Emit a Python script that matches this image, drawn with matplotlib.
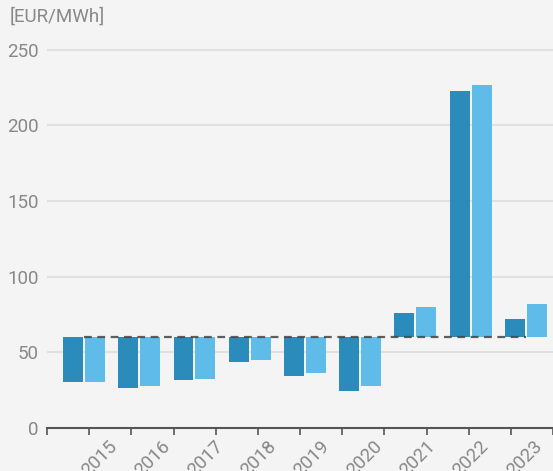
import matplotlib
matplotlib.use("Agg")
import matplotlib.pyplot as plt

# data
years = ["2015", "2016", "2017", "2018", "2019", "2020", "2021", "2022", "2023"]
series_dark = [30.4, 26.4, 31.7, 43.6, 34.3, 24.6, 76.0, 222.6, 72.0]
series_light = [30.4, 27.7, 32.4, 44.9, 36.5, 27.7, 79.9, 226.5, 81.9]
reference_level = 60
y_ticks = [0, 50, 100, 150, 200, 250]
unit_label = "[EUR/MWh]"

bg = "#f4f4f4"
c_dark = "#2b8bba"
c_light = "#5fbbe8"
txt = "#888888"

plt.rcParams["font.family"] = ["Roboto", "DejaVu Sans"]

W, H = 553, 471
fig = plt.figure(figsize=(W / 100, H / 100), dpi=100, facecolor=bg)
ax = fig.add_axes([47 / W, (H - 428) / H, 1 - 47 / W, (428 - 42) / H])
ax.set_facecolor(bg)

x = list(range(len(years)))
w = 0.362
ax.bar([i - 0.199 for i in x], [v - reference_level for v in series_dark], w,
       bottom=reference_level, color=c_dark, zorder=2)
ax.bar([i + 0.199 for i in x], [v - reference_level for v in series_light], w,
       bottom=reference_level, color=c_light, zorder=2)

# dashed reference line
ax.plot([x[0], x[-1]], [reference_level, reference_level], color="#444444",
        lw=1.6, dashes=(3.5, 2.5), alpha=0.85, zorder=3)

ax.set_xlim(-0.67, 8.49)
ax.set_ylim(0, 255)

ax.set_yticks(y_ticks)
ax.set_yticklabels([str(t) for t in y_ticks], color=txt, fontsize=13.5)
ax.tick_params(axis="y", length=0, pad=6)
for t in y_ticks[1:]:
    ax.axhline(t, color="#e0e0e0", lw=1.5, zorder=1)

# evenly spaced tick marks along the x axis (no labels)
ax.set_xticks([])
ax2 = ax.twiny()
ax2.set_xlim(0, 12)
ax2.set_xticks(range(13))
ax2.xaxis.set_ticks_position("bottom")
ax2.tick_params(axis="x", length=5, width=1.2, color="#555555",
                labelbottom=False, labeltop=False)
for s in ax2.spines.values():
    s.set_visible(False)

# rotated year labels, spread evenly below the axis
n = len(years)
x0, x1 = 114, 539
for k, yr in enumerate(years):
    px = x0 + (x1 - x0) * k / (n - 1)
    fig.text(px / W, 1 - 444 / H, yr, rotation=45, rotation_mode="anchor",
             ha="right", va="center", color=txt, fontsize=13.5)

for s in ["top", "right", "left"]:
    ax.spines[s].set_visible(False)
ax.spines["bottom"].set_color("#555555")
ax.spines["bottom"].set_linewidth(1.5)

fig.text(10 / W, 1 - 17 / H, unit_label, color=txt, fontsize=13.5, va="center", ha="left")

fig.savefig("out.png", dpi=100, facecolor=bg)
